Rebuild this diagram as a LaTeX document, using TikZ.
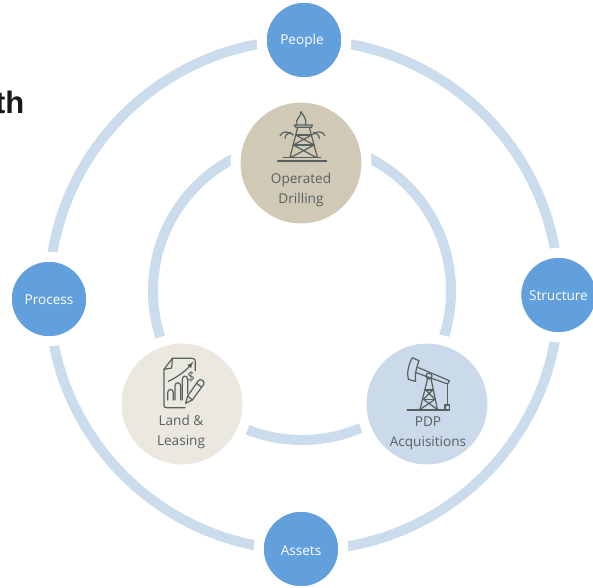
\documentclass[tikz,border=0pt]{standalone}
\usepackage{fontspec}
\setmainfont{Open Sans}
\newfontfamily\headfont{Liberation Sans}
\definecolor{ringc}{HTML}{CBDCEC}
\definecolor{bluec}{HTML}{629FDD}
\definecolor{tanc}{HTML}{D0C9B5}
\definecolor{landc}{HTML}{EBE8E0}
\definecolor{pdpc}{HTML}{CADAEA}
\definecolor{inkc}{HTML}{56615F}
\newcommand{\basedrop}[2]{\smash{\raisebox{-#1pt}{#2}}}
\tikzset{
  ringline/.style={draw=ringc,line width=10pt},
  outernode/.style={circle,fill=bluec,draw=white,line width=10pt,minimum size=84.5pt,inner sep=0pt,text=white,font=\fontsize{13.6}{15}\selectfont},
  innernode/.style={circle,draw=white,line width=10pt,minimum size=131pt,inner sep=0pt},
  lab/.style={align=center,text=inkc,inner sep=0pt,font=\fontsize{13.6}{20}\selectfont},
  icon/.style={draw=inkc,line width=1.2pt,line join=round,line cap=round}
}
\begin{document}
\begin{tikzpicture}[x=1pt,y=-1pt]
\useasboundingbox (0,0) rectangle (593,587);
\fill[white] (0,0) rectangle (593,587);
\coordinate (oc) at (304,295);
\coordinate (ic) at (302,291);
\draw[ringline] (oc) circle[radius=255pt];
\draw[ringline] (ic) circle[radius=149pt];
\node[outernode] (people) at (304,40) {\basedrop{4}{People}\hspace*{4pt}};
\node[outernode] (structure) at (558.5,295) {\basedrop{5}{Structure}};
\node[outernode] (assets) at (301,549) {\basedrop{6.5}{Assets}};
\node[outernode] (process) at (49,299) {\basedrop{5}{Process}};
\node[innernode,fill=tanc] (drill) at (301,163) {};
\node[innernode,fill=landc] (land) at (182,404) {};
\node[innernode,fill=pdpc] (pdp) at (427,404) {};
\node[lab] (drilltext) at (301,190) {Operated\\Drilling};
\node[lab] (landtext) at (181,432) {Land \&\\Leasing};
\node[lab] (pdptext) at (428,433) {PDP\\Acquisitions};
\node[anchor=base east,inner sep=0pt,font=\headfont\bfseries\fontsize{31}{31}\selectfont,text=black!90] (head) at (24.5,113) {th};
% derrick
\begin{scope}[shift={(230,95)},x=0.3333pt,y=-0.3333pt,icon]
\draw (143,198) -- (290,198);
\draw (160,187) -- (272,187);
\draw (180,187) -- (203,97) (262,187) -- (238,97);
\draw (193,90) -- (247,90) -- (245,97) -- (197,97) -- cycle;
\draw (197,120) -- (245,120) (190,150) -- (252,150);
\draw (197,120) -- (252,150) (245,120) -- (190,150);
\draw (190,150) -- (258,187) (252,150) -- (183,187);
\draw (200,90) .. controls (195,70) and (212,70) .. (213,50) .. controls (222,65) and (232,75) .. (226,90);
\draw (150,122) .. controls (160,105) and (175,110) .. (190,120);
\draw (165,130) .. controls (165,118) and (175,115) .. (183,112);
\draw (285,122) .. controls (275,105) and (260,110) .. (248,118);
\draw (268,130) .. controls (268,118) and (258,115) .. (250,112);
\end{scope}
% document
\begin{scope}[shift={(115,340)},x=0.3333pt,y=-0.3333pt,icon]
\draw (210,203) -- (155,203) .. controls (148,203) and (147,200) .. (147,195) -- (147,88) -- (172,55) -- (232,55) .. controls (240,55) and (241,60) .. (241,65) -- (241,92);
\draw (147,88) -- (170,84) -- (172,55);
\draw[-latex] (160,124) .. controls (185,112) and (210,95) .. (235,65);
\draw (158,180) -- (158,158) .. controls (158,145) and (175,145) .. (175,158) -- (175,180);
\draw (180,180) -- (180,138) .. controls (180,125) and (197,125) .. (197,138) -- (197,180);
\draw (202,180) -- (202,118) .. controls (202,105) and (218,105) .. (218,118) -- (218,160);
\draw (216,188) -- (212,190) -- (218,168) -- (250,122) .. controls (256,113) and (272,125) .. (266,133) -- (232,180) -- cycle;
\draw (218,168) -- (232,180) (245,130) -- (260,142);
\node[draw=none,text=inkc,inner sep=0pt,font=\fontsize{13}{13}\selectfont] (dollar) at (228,110) {\$};
\end{scope}
% pumpjack
\begin{scope}[shift={(355,340)},x=0.3333pt,y=-0.3333pt,icon]
\draw[line width=1.5pt] (157,210) -- (283,210);
\draw (172,53) .. controls (160,75) and (155,100) .. (160,118) -- (182,124) .. controls (178,105) and (185,80) .. (192,62) -- cycle;
\draw (188,82) -- (283,122) -- (278,132) -- (183,98);
\draw (222,108) circle[radius=3pt];
\draw (218,115) -- (195,208) (228,115) -- (247,208);
\draw (212,150) -- (233,150) (205,178) -- (240,178);
\draw (212,150) -- (240,178) (233,150) -- (205,178);
\draw (205,178) -- (245,207) (240,178) -- (197,207);
\draw (278,132) -- (278,195);
\draw (270,195) rectangle (283,208);
\end{scope}
\end{tikzpicture}
\end{document}
